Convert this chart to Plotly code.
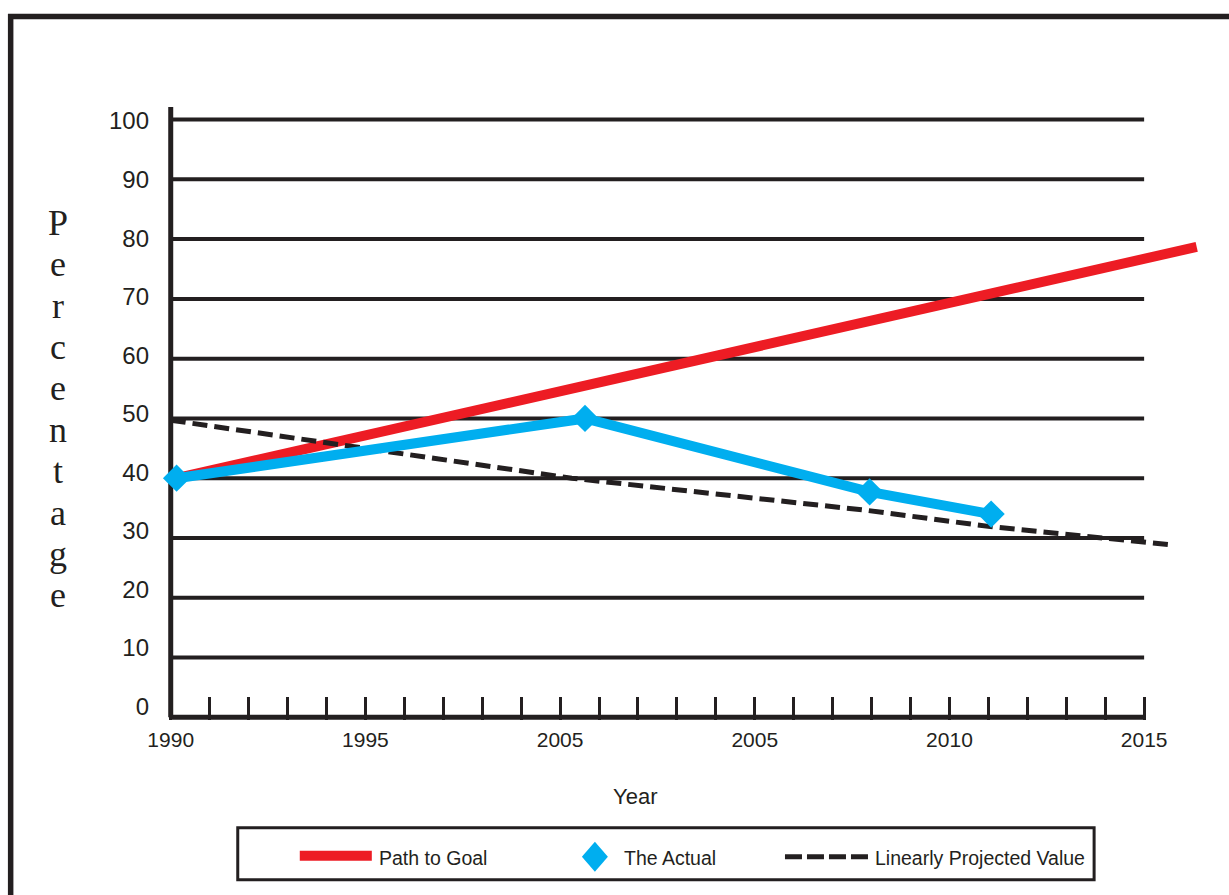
import plotly.graph_objects as go

# ---- data -------------------------------------------------------------
goal_years = [1990.15, 2016.35]
goal_values = [40.0, 78.7]

actual_years = [1990.15, 2000.64, 2007.95, 2011.07]
actual_values = [40.0, 50.0, 37.7, 34.0]

proj_years = [1990.0, 2000.3, 2007.9, 2011.05, 2015.62]
proj_values = [49.7, 40.0, 34.6, 31.9, 28.9]

tick_years = list(range(1990, 2016))
label_years = [1990, 1995, 2000, 2005, 2010, 2015]
label_texts = ["1990", "1995", "2005", "2005", "2010", "2015"]

pct_ticks = list(range(0, 101, 10))
grid_levels = list(range(10, 101, 10))

RED = "#ed1c24"
CYAN = "#00aeef"
INK = "#231f20"
SANS = "Liberation Sans, Arial, sans-serif"
SERIF = "Liberation Serif, Times New Roman, serif"

# ---- page geometry (pixels) -------------------------------------------
W, H = 1229, 895
PPY = 38.92          # pixels per year
PPU = 5.98           # pixels per percentage point
X0_PX, Y0_PX = 171.0, 717.5   # where 1990 / 0 % sit
X_RANGE = [1989.93, 2017.0]
Y_RANGE = [-0.45, 102.1]

plot_left = X0_PX - (1990 - X_RANGE[0]) * PPY
plot_right = X0_PX + (X_RANGE[1] - 1990) * PPY
plot_top = Y0_PX - Y_RANGE[1] * PPU
plot_bottom = Y0_PX - Y_RANGE[0] * PPU


def px_x(px):
    return (px - plot_left) / (plot_right - plot_left)


def px_y(py):
    return (plot_bottom - py) / (plot_bottom - plot_top)


# tick labels of the percentage scale sit on a slightly tighter spacing
LBL0_PX, LBL100_PX = 706.5, 121.0
lbl_ppu = (LBL0_PX - LBL100_PX) / 100.0
Y2_RANGE = [-(plot_bottom - LBL0_PX) / lbl_ppu, (LBL0_PX - plot_top) / lbl_ppu]

fig = go.Figure()

fig.add_trace(go.Scatter(
    x=goal_years, y=goal_values, mode="lines", name="Path to Goal",
    line=dict(color=RED, width=10), cliponaxis=False, showlegend=False,
))
fig.add_trace(go.Scatter(
    x=proj_years, y=proj_values, mode="lines", name="Linearly Projected Value",
    line=dict(color=INK, width=5, dash="15px,7px"), cliponaxis=False, showlegend=False,
))
fig.add_trace(go.Scatter(
    x=actual_years, y=actual_values, mode="lines+markers", name="The Actual",
    line=dict(color=CYAN, width=10),
    marker=dict(symbol="diamond", size=21, color=CYAN, line=dict(width=0)),
    cliponaxis=False, showlegend=False,
))
# empty trace that carries the labelled percentage scale
fig.add_trace(go.Scatter(x=[None], y=[None], yaxis="y2", mode="lines",
                         showlegend=False, hoverinfo="skip"))

shapes = []
# horizontal grid lines, stopping at 2015
for lv in grid_levels:
    shapes.append(dict(type="line", xref="x", yref="y", x0=1990, x1=2015, y0=lv, y1=lv,
                       line=dict(color=INK, width=4), layer="below"))
# axis lines
shapes.append(dict(type="line", xref="x", yref="y", x0=1990, x1=2015, y0=0, y1=0,
                   line=dict(color=INK, width=5), layer="below"))
shapes.append(dict(type="line", xref="x", yref="y", x0=1990, x1=1990, y0=0, y1=Y_RANGE[1],
                   line=dict(color=INK, width=5), layer="below"))

# outer frame
shapes.append(dict(type="rect", xref="paper", yref="paper",
                   x0=px_x(11), x1=px_x(1300), y0=px_y(16.3), y1=px_y(1000),
                   line=dict(color=INK, width=5.5), fillcolor="rgba(0,0,0,0)"))

# legend box and keys
shapes.append(dict(type="rect", xref="paper", yref="paper",
                   x0=px_x(238), x1=px_x(1094), y0=px_y(828), y1=px_y(880),
                   line=dict(color=INK, width=3), fillcolor="white"))
shapes.append(dict(type="line", xref="paper", yref="paper",
                   x0=px_x(300), x1=px_x(372), y0=px_y(856), y1=px_y(856),
                   line=dict(color=RED, width=10)))
shapes.append(dict(type="line", xref="paper", yref="paper",
                   x0=px_x(785), x1=px_x(870), y0=px_y(857), y1=px_y(857),
                   line=dict(color=INK, width=5, dash="17px,5px")))
cx, cy, hw, hh = 595, 857, 13, 15
shapes.append(dict(
    type="path", xref="paper", yref="paper",
    path=(f"M {px_x(cx)} {px_y(cy - hh)} L {px_x(cx + hw)} {px_y(cy)} "
          f"L {px_x(cx)} {px_y(cy + hh)} L {px_x(cx - hw)} {px_y(cy)} Z"),
    fillcolor=CYAN, line=dict(width=0)))

annotations = []
legend_items = [(377, "Path to Goal"), (622, "The Actual"), (873, "Linearly Projected Value")]
for lx, txt in legend_items:
    annotations.append(dict(text=txt, xref="paper", yref="paper", x=px_x(lx), y=px_y(858),
                            xanchor="left", yanchor="middle", showarrow=False,
                            font=dict(family=SANS, size=19.5, color=INK)))

annotations.append(dict(text="Year", xref="paper", yref="paper", x=px_x(635), y=px_y(797),
                        xanchor="center", yanchor="middle", showarrow=False,
                        font=dict(family=SANS, size=22, color=INK)))

# stacked letters of the vertical axis title
letter_fs = 36
for i, ch in enumerate("Percentage"):
    baseline = 235 + i * 41.4
    annotations.append(dict(text=ch, xref="paper", yref="paper",
                            x=px_x(58), y=px_y(baseline - 0.3375 * letter_fs),
                            xanchor="center", yanchor="middle", showarrow=False,
                            font=dict(family=SERIF, size=letter_fs, color=INK)))

fig.update_layout(
    width=W, height=H,
    margin=dict(l=plot_left, r=W - plot_right, t=plot_top, b=H - plot_bottom, pad=0,
                autoexpand=False),
    paper_bgcolor="white", plot_bgcolor="white",
    showlegend=False,
    shapes=shapes, annotations=annotations,
    xaxis=dict(range=X_RANGE, showgrid=False, zeroline=False, showline=False,
               tickmode="array", tickvals=tick_years,
               ticktext=[label_texts[label_years.index(y)] if y in label_years else ""
                         for y in tick_years],
               ticks="inside", ticklen=23, tickwidth=3, tickcolor=INK,
               ticklabelstandoff=5,
               tickfont=dict(family=SANS, size=21, color=INK)),
    yaxis=dict(range=Y_RANGE, showgrid=False, zeroline=False, showline=False,
               showticklabels=False, ticks=""),
    yaxis2=dict(range=Y2_RANGE, overlaying="y", side="left", anchor="x",
                showgrid=False, zeroline=False, showline=False,
                tickmode="array", tickvals=pct_ticks, ticks="",
                ticklabelstandoff=18,
                tickfont=dict(family=SANS, size=24, color=INK)),
)

fig.write_html("out.html")
